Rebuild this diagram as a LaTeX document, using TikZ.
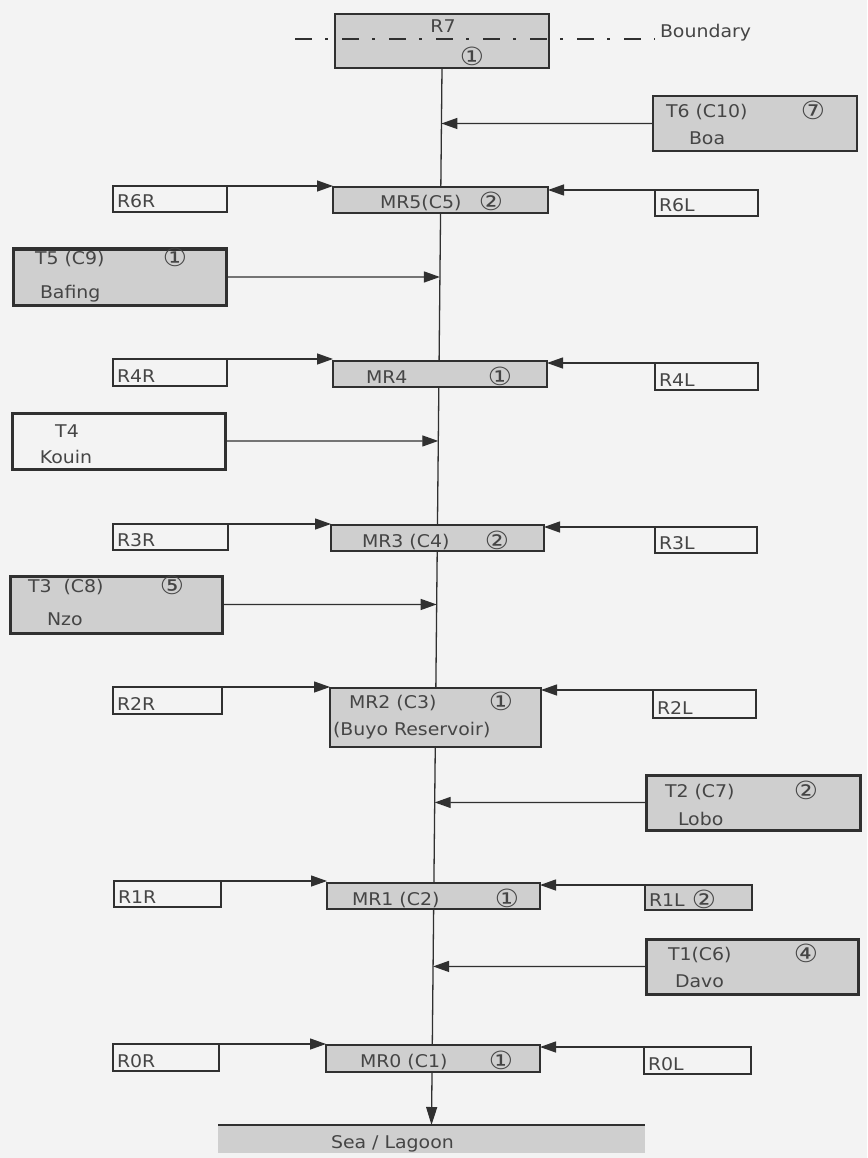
\documentclass[tikz,border=0pt]{standalone}
\usepackage{fontspec}
\setmainfont{DejaVu Sans}[FakeStretch=1.08]
\usetikzlibrary{arrows.meta,calc}
\definecolor{bgc}{HTML}{F3F3F3}
\definecolor{sh}{HTML}{CFCFCF}
\definecolor{lc}{HTML}{303030}
\definecolor{tc}{HTML}{454545}
\pgfdeclarelayer{bgl}
\pgfdeclarelayer{back}
\pgfsetlayers{bgl,back,main}
\tikzset{
  every node/.style={inner sep=0pt, outer sep=0pt},
  lab/.style={font=\fontsize{17.5pt}{20pt}\selectfont, text=tc, inner sep=0pt},
  labw/.style={lab, anchor=base west},
  labc/.style={lab, anchor=base},
  circ/.style={lab, anchor=base, font=\fontsize{25pt}{27pt}\selectfont, yshift=-2pt},
  thinln/.style={draw=lc, line width=1.3pt},
  rbox/.style={thinln, anchor=north west},
  mrbox/.style={thinln, fill=sh, anchor=north west},
  tbox/.style={draw=lc, line width=3pt, fill=sh, anchor=north west},
  tboxw/.style={tbox, fill=bgc},
  arr/.style={draw=lc, line width=1.3pt, -{Triangle[length=16pt,width=11pt]}},
  bndline/.style={draw=lc, line width=2.7pt, dash pattern=on 17pt off 13pt on 3pt off 14pt},
}
\newcommand\mkbox[6]{\node[#1, minimum width=#4pt, minimum height=#5pt] (#6) at (#2,#3) {};}
\begin{document}
\begin{tikzpicture}[x=1pt, y=-1pt]
\begin{pgfonlayer}{bgl}
\fill[bgc] (0,0) rectangle (867,1158);
\end{pgfonlayer}
\useasboundingbox (0,0) rectangle (867,1158);

% boxes
\mkbox{mrbox}{335}{14}{214}{54}{R7}
\mkbox{tbox, line width=2pt}{653}{96}{204}{55}{T6}
\mkbox{rbox}{113}{186}{114}{26}{R6R}
\mkbox{mrbox}{333}{187}{215}{26}{MR5}
\mkbox{rbox}{655}{190}{103}{26}{R6L}
\mkbox{tbox}{13}{249}{213}{56}{T5}
\mkbox{rbox}{113}{359}{114}{27}{R4R}
\mkbox{mrbox}{333}{361}{214}{26}{MR4}
\mkbox{rbox}{655}{363}{103}{27}{R4L}
\mkbox{tboxw}{12}{413}{213}{56}{T4}
\mkbox{rbox}{113}{524}{115}{26}{R3R}
\mkbox{mrbox}{331}{525}{213}{26}{MR3}
\mkbox{rbox}{655}{527}{102}{26}{R3L}
\mkbox{tbox}{10}{576}{212}{57}{T3}
\mkbox{rbox}{113}{687}{109}{27}{R2R}
\mkbox{mrbox}{330}{688}{211}{59}{MR2}
\mkbox{rbox}{653}{690}{103}{28}{R2L}
\mkbox{tbox}{646}{775}{214}{55}{T2}
\mkbox{rbox}{114}{881}{107}{26}{R1R}
\mkbox{mrbox}{327}{883}{213}{26}{MR1}
\mkbox{mrbox}{645}{885}{107}{25}{R1L}
\mkbox{tbox}{646}{939}{212}{55}{T1}
\mkbox{rbox}{113}{1044}{106}{27}{R0R}
\mkbox{mrbox}{326}{1045}{214}{27}{MR0}
\mkbox{rbox}{644}{1047}{107}{27}{R0L}
\node[fill=sh, anchor=north west, minimum width=427pt, minimum height=28pt] (Sea) at (218,1125) {};
\draw[draw=lc, line width=2.5pt] (Sea.north west) -- (Sea.north east);

% spine
\coordinate (st) at (R7.south);
\coordinate (sb) at (Sea.north);
\begin{pgfonlayer}{back}
\draw[arr, -{Triangle[length=18pt,width=11pt]}] (st) -- (sb);
\end{pgfonlayer}

% boundary
\coordinate (bL) at (295,39);
\coordinate (bR) at (655,39);
\draw[bndline] (bL) -- (bR);
\node[labw] (bnd) at (660,38) {Boundary};

% tributary arrows
\draw[arr] (T6.west) -- (intersection of st--sb and T6.west--T6.east);
\draw[arr] (T5.east) -- (intersection of st--sb and T5.west--T5.east);
\draw[arr] (T4.east) -- (intersection of st--sb and T4.west--T4.east);
\draw[arr] (T3.east) -- (intersection of st--sb and T3.west--T3.east);
\draw[arr] (T2.west) -- (intersection of st--sb and T2.west--T2.east);
\draw[arr] (T1.west) -- (intersection of st--sb and T1.west--T1.east);

% side inflow arrows
\draw[arr] (R6R.north east) -- (R6R.north east -| MR5.west);
\draw[arr] (R6L.north west) -- (R6L.north west -| MR5.east);
\draw[arr] (R4R.north east) -- (R4R.north east -| MR4.west);
\draw[arr] (R4L.north west) -- (R4L.north west -| MR4.east);
\draw[arr] (R3R.north east) -- (R3R.north east -| MR3.west);
\draw[arr] (R3L.north west) -- (R3L.north west -| MR3.east);
\draw[arr] (R2R.north east) -- (R2R.north east -| MR2.west);
\draw[arr] (R2L.north west) -- (R2L.north west -| MR2.east);
\draw[arr] (R1R.north east) -- (R1R.north east -| MR1.west);
\draw[arr] (R1L.north west) -- (R1L.north west -| MR1.east);
\draw[arr] (R0R.north east) -- (R0R.north east -| MR0.west);
\draw[arr] (R0L.north west) -- (R0L.north west -| MR0.east);

% texts
\node[labc] (R7a) at (443,33) {R7};
\node[circ] (R7b) at (472,64) {①};
\node[labw] (T6a) at (666,118) {T6 (C10)};
\node[circ] (T6b) at (813,118) {⑦};
\node[labw] (T6c) at (689,145) {Boa};
\node[labw] (R6Ra) at (117,208) {R6R};
\node[labw] (MR5a) at (380,209) {MR5(C5)};
\node[circ] (MR5b) at (491,209) {②};
\node[labw] (R6La) at (659,212) {R6L};
\node[labw] (T5a) at (35,264) {T5 (C9)};
\node[circ] (T5b) at (175,264) {①};
\node[labw] (T5c) at (40,298) {Bafing};
\node[labw] (R4Ra) at (117,382) {R4R};
\node[labw] (MR4a) at (366,383) {MR4};
\node[circ] (MR4b) at (500,383) {①};
\node[labw] (R4La) at (659,386) {R4L};
\node[labc] (T4a) at (67,437) {T4};
\node[labc] (T4b) at (66,463) {Kouin};
\node[labw] (R3Ra) at (117,546) {R3R};
\node[labw] (MR3a) at (362,547) {MR3 (C4)};
\node[circ] (MR3b) at (497,547) {②};
\node[labw] (R3La) at (659,549) {R3L};
\node[labw] (T3a) at (28,592) {T3\ \ (C8)};
\node[circ] (T3b) at (172,592) {⑤};
\node[labw] (T3c) at (47,625) {Nzo};
\node[labw] (R2Ra) at (117,710) {R2R};
\node[labw] (MR2a) at (349,708) {MR2 (C3)};
\node[circ] (MR2b) at (501,708) {①};
\node[labw] (MR2c) at (333,735) {(Buyo Reservoir)};
\node[labw] (R2La) at (657,714) {R2L};
\node[labw] (T2a) at (665,797) {T2 (C7)};
\node[circ] (T2b) at (806,797) {②};
\node[labw] (T2c) at (678,825) {Lobo};
\node[labw] (R1Ra) at (118,903) {R1R};
\node[labw] (MR1a) at (352,905) {MR1 (C2)};
\node[circ] (MR1b) at (507,905) {①};
\node[labw] (R1La) at (649,906) {R1L};
\node[circ] (R1Lb) at (704,906) {②};
\node[labw] (T1a) at (668,960) {T1(C6)};
\node[circ] (T1b) at (806,960) {④};
\node[labw] (T1c) at (675,987) {Davo};
\node[labw] (R0Ra) at (117,1067) {R0R};
\node[labw] (MR0a) at (360,1067) {MR0 (C1)};
\node[circ] (MR0b) at (501,1067) {①};
\node[labw] (R0La) at (648,1070) {R0L};
\node[labw] (Seaa) at (331,1148) {Sea / Lagoon};
\end{tikzpicture}
\end{document}
